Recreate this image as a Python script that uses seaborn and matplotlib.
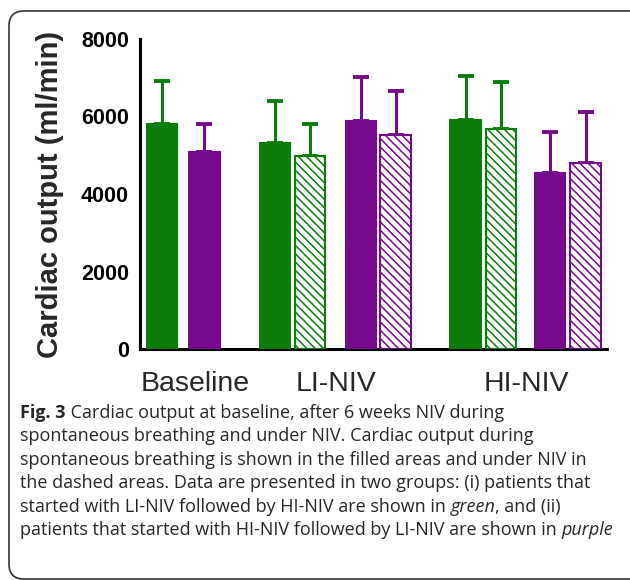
import matplotlib
matplotlib.use("Agg")
import matplotlib.pyplot as plt
from matplotlib.patches import FancyBboxPatch
from matplotlib.transforms import IdentityTransform
import seaborn as sns
import pandas as pd

# data (mean and mean + SD, ml/min)
bars = ["BL green", "BL purple",
        "LI green SB", "LI green NIV", "LI purple SB", "LI purple NIV",
        "HI green SB", "HI green NIV", "HI purple SB", "HI purple NIV"]
means = [5800, 5090, 5320, 4990, 5890, 5530, 5910, 5680, 4550, 4810]
upper = [6915, 5810, 6400, 5810, 7020, 6660, 7040, 6890, 5600, 6120]
group_of_bar = ["green", "purple", "green", "green", "purple", "purple",
                "green", "green", "purple", "purple"]
hatched = [False, False, False, True, False, True, False, True, False, True]
categories = ["Baseline", "LI-NIV", "HI-NIV"]
yticks = [0, 2000, 4000, 6000, 8000]

# layout (pixel-like positions along the x axis)
positions = [162, 204.5, 275, 310, 361, 395.5, 465.5, 501, 550, 585.5]
cat_pos = [195.5, 336.5, 526]
colors = {"green": "#0a7d0a", "purple": "#760a8c"}

df = pd.DataFrame({"bar": bars, "pos": positions, "mean": means})
palette = {b: colors[g] for b, g in zip(bars, group_of_bar)}

sns.set_style("white")
plt.rcParams["font.family"] = ["Liberation Sans", "DejaVu Sans"]
plt.rcParams["hatch.linewidth"] = 1.1

fig = plt.figure(figsize=(6.3, 5.8), dpi=100)
ax = fig.add_axes([140 / 630, 1 - 349 / 580, 467 / 630, 310 / 580])

sns.barplot(data=df, x="pos", y="mean", hue="bar", hue_order=bars,
            palette=palette, native_scale=True, width=0.87,
            errorbar=None, legend=False, saturation=1, ax=ax)

for p, g, h in zip(ax.patches, group_of_bar, hatched):
    c = colors[g]
    p.set_linewidth(1.5)
    p.set_edgecolor(c)
    if h:
        p.set_facecolor("white")
        p.set_hatch("\\\\\\\\")
    p.set_zorder(3)

for x, m, u, g in zip(positions, means, upper, group_of_bar):
    ax.errorbar([x], [m], yerr=[[0], [u - m]], fmt="none", ecolor=colors[g],
                elinewidth=2.2, capsize=5.8, capthick=2.8, zorder=2)

ax.set_xlim(140, 607)
ax.set_ylim(0, 8000)
ax.set_yticks(yticks)
ax.set_yticklabels([str(v) for v in yticks], fontsize=15.5, fontweight="bold")
ax.set_xticks(cat_pos)
ax.set_xticklabels(categories, fontsize=20.5)
ax.tick_params(axis="x", length=0, pad=16)
ax.tick_params(axis="y", direction="out", length=6, width=2.2, pad=2, colors="black")
ax.set_xlabel("")
ax.set_ylabel("Cardiac output (ml/min)", fontsize=21, fontweight="bold")
ax.yaxis.set_label_coords(-0.162, 0.5)
for s in ["top", "right"]:
    ax.spines[s].set_visible(False)
for s in ["left", "bottom"]:
    ax.spines[s].set_linewidth(2.2)
    ax.spines[s].set_color("black")

# rounded frame around chart and caption (right edge runs off the image)
frame = FancyBboxPatch((9, 1), 660, 568, boxstyle="round,pad=0,rounding_size=15",
                       transform=IdentityTransform(), facecolor="none",
                       edgecolor="#333333", linewidth=1.2)
fig.add_artist(frame)

# caption with mixed styles
caption = [
    [("Fig. 3", "bold", "normal"), (" Cardiac output at baseline, after 6 weeks NIV during", "normal", "normal")],
    [("spontaneous breathing and under NIV. Cardiac output during", "normal", "normal")],
    [("spontaneous breathing is shown in the filled areas and under NIV in", "normal", "normal")],
    [("the dashed areas. Data are presented in two groups: (i) patients that", "normal", "normal")],
    [("started with LI-NIV followed by HI-NIV are shown in ", "normal", "normal"),
     ("green", "normal", "italic"), (", and (ii)", "normal", "normal")],
    [("patients that started with HI-NIV followed by LI-NIV are shown in ", "normal", "normal"),
     ("purple", "normal", "italic")],
]
renderer = fig.canvas.get_renderer()
y0 = 580 - 418
for i, line in enumerate(caption):
    x = 20
    y = y0 - i * 23.4
    for txt, weight, style in line:
        t = fig.text(x / 630, y / 580, txt, fontsize=13.0, fontweight=weight,
                     fontstyle=style, family=["Open Sans", "DejaVu Sans"],
                     color="#262626", va="baseline", ha="left")
        x += t.get_window_extent(renderer).width

fig.savefig("out.png", dpi=100)
plt.close(fig)
